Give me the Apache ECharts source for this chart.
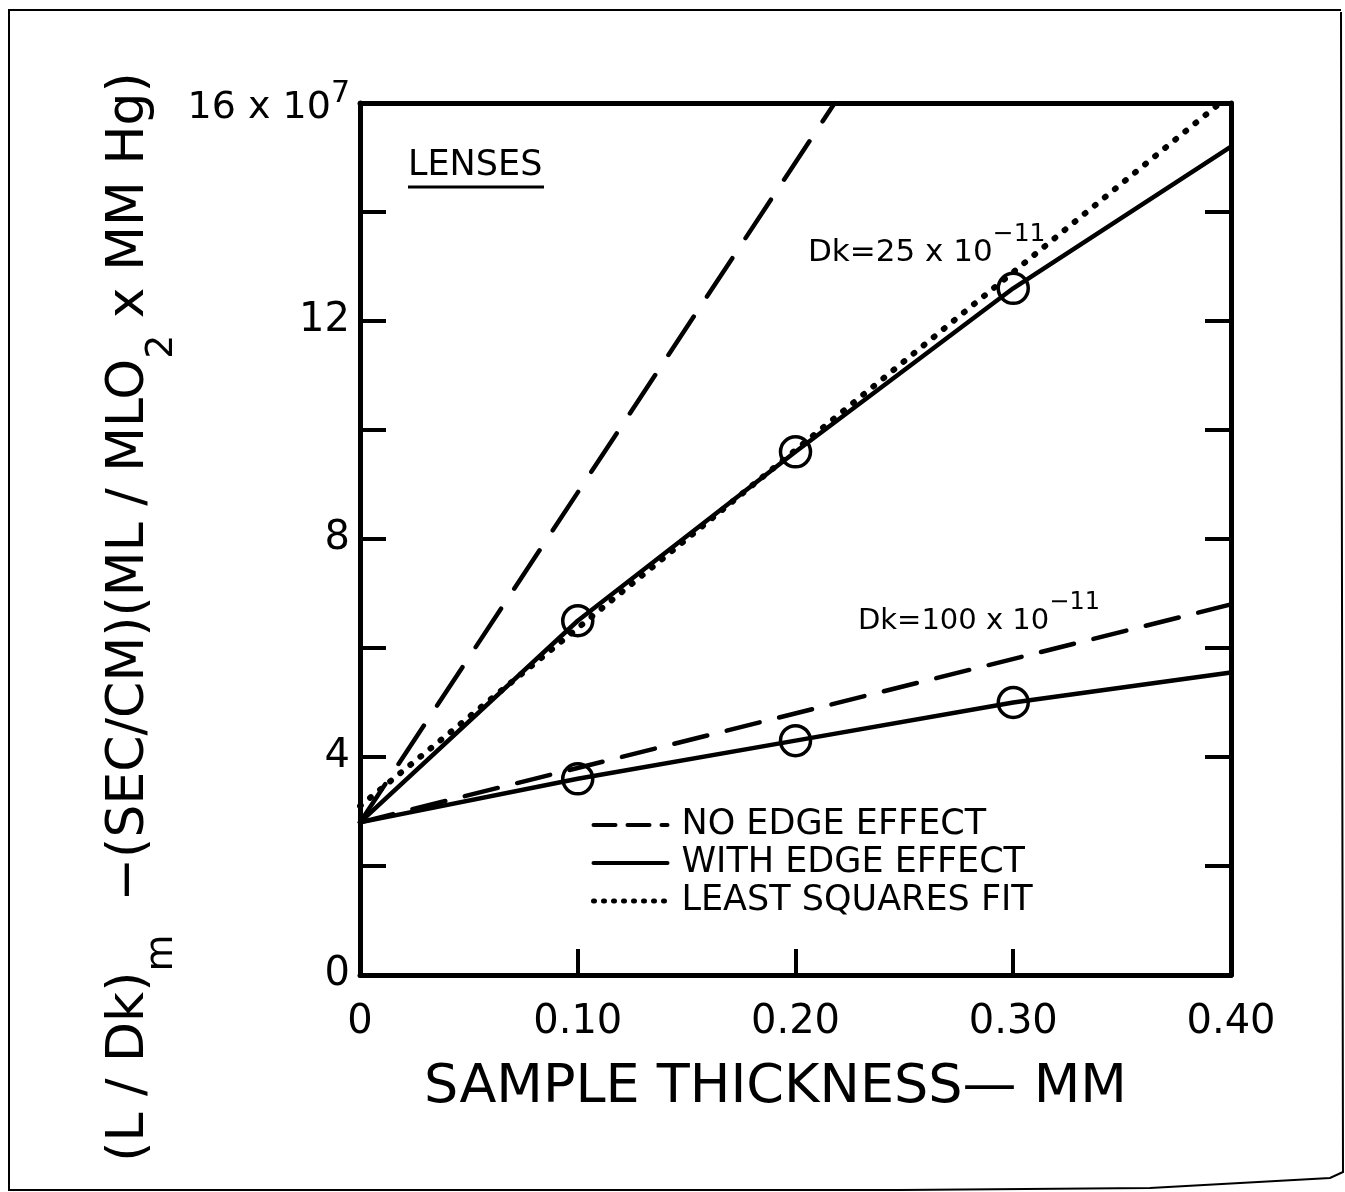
<!DOCTYPE html>
<html>
<head>
<meta charset="utf-8">
<script src="https://cdn.jsdelivr.net/npm/echarts@6/dist/echarts.min.js"></script>
<style>
  html, body { margin: 0; padding: 0; background: #fff; }
  #main { width: 1345px; height: 1192px; }
</style>
</head>
<body>
<div id="main"></div>
<script>
// data (y in units of 10^7)
const xTicks = [0, 0.10, 0.20, 0.30, 0.40];
const yLabels = [0, 4, 8, 12, 16];

// Dk = 25 x 10^-11
const dk25NoEdge = [[0, 2.8], [0.218, 16]];
const dk25Edge = [[0, 2.8], [0.1, 6.5], [0.2, 9.6], [0.3, 12.6], [0.4, 15.2]];
const dk25Fit = [[0, 3.1], [0.395, 16]];
// Dk = 100 x 10^-11
const dk100NoEdge = [[0, 2.8], [0.4, 6.8]];
const dk100Edge = [[0, 2.8], [0.1, 3.6], [0.2, 4.3], [0.3, 5.0], [0.4, 5.55]];
// measured points (circles)
const measured = [[0.1, 6.5], [0.2, 9.6], [0.3, 12.6], [0.1, 3.6], [0.2, 4.3], [0.3, 5.0]];

const FONT = 'DejaVu Sans';
const INK = '#000';

var myChart = echarts.init(document.getElementById('main'));

function lineSeries(name, data, type, width) {
    return {
        name: name,
        type: 'line',
        data: data,
        symbol: 'none',
        clip: true,
        silent: true,
        lineStyle: { color: INK, width: width || 4.5, type: type, cap: 'round' },
        itemStyle: { color: INK }
    };
}

const axisLine = { show: true, onZero: false, lineStyle: { color: INK, width: 5 } };
const noSymbol = { opacity: 0 };

const option = {
    backgroundColor: '#fff',
    animation: false,
    grid: { left: 360, right: 114, top: 103, bottom: 217 },
    legend: {
        orient: 'vertical',
        left: 586,
        top: 802,
        itemWidth: 74,
        itemHeight: 14,
        itemGap: 2,
        selectedMode: false,
        textStyle: { fontFamily: FONT, fontSize: 35, lineHeight: 36, color: INK, padding: [0, 0, 0, 9] },
        data: [
            { name: 'NO EDGE EFFECT', itemStyle: noSymbol, lineStyle: { type: [22, 12], width: 4 } },
            { name: 'WITH EDGE EFFECT', itemStyle: noSymbol, lineStyle: { type: 'solid', width: 4 } },
            { name: 'LEAST SQUARES FIT', itemStyle: noSymbol, lineStyle: { type: [1, 9], width: 5 } }
        ]
    },
    xAxis: [{
        type: 'value',
        min: 0, max: 0.4, interval: 0.1,
        name: 'SAMPLE THICKNESS— MM',
        nameLocation: 'middle',
        nameGap: 86,
        nameTextStyle: { fontFamily: FONT, fontSize: 54, color: INK, padding: [0, 40, 0, 0] },
        axisLine: axisLine,
        axisTick: { inside: true, length: 26, lineStyle: { color: INK, width: 4 } },
        splitLine: { show: false },
        axisLabel: {
            margin: 28,
            fontFamily: FONT, fontSize: 40, color: INK,
            formatter: v => v === 0 ? '0' : v.toFixed(2)
        }
    }, {
        type: 'value', position: 'top',
        min: 0, max: 0.4,
        axisLine: axisLine,
        axisTick: { show: false }, axisLabel: { show: false }, splitLine: { show: false }
    }],
    yAxis: [{
        type: 'value',
        min: 0, max: 16, interval: 2,
        axisLine: axisLine,
        axisTick: { show: true, inside: true, length: 26, lineStyle: { color: INK, width: 4 } },
        splitLine: { show: false },
        axisLabel: {
            margin: 10,
            fontFamily: FONT, fontSize: 40, color: INK,
            formatter: function (v) {
                if (yLabels.indexOf(v) < 0) return '';
                if (v === 16) return '{n|16 x 10}{sup|7}';
                return String(v);
            },
            rich: {
                n: { fontFamily: FONT, fontSize: 38, color: INK, padding: [10, 0, 0, 0] },
                sup: { fontFamily: FONT, fontSize: 30, color: INK, verticalAlign: 'top' }
            }
        }
    }, {
        type: 'value', position: 'right',
        min: 0, max: 16, interval: 2,
        axisLine: axisLine,
        axisTick: { show: true, inside: true, length: 26, lineStyle: { color: INK, width: 4 } },
        axisLabel: { show: false },
        splitLine: { show: false }
    }],
    series: [
        lineSeries('NO EDGE EFFECT', dk25NoEdge, [46, 24]),
        lineSeries('WITH EDGE EFFECT', dk25Edge, 'solid'),
        lineSeries('LEAST SQUARES FIT', dk25Fit, [1, 12], 6),
        lineSeries('NO EDGE EFFECT', dk100NoEdge, [34, 20]),
        lineSeries('WITH EDGE EFFECT', dk100Edge, 'solid'),
        {
            name: 'measured',
            type: 'scatter',
            data: measured,
            symbol: 'circle',
            symbolSize: 30,
            silent: true,
            itemStyle: { color: 'rgba(0,0,0,0)', borderColor: INK, borderWidth: 3.5, opacity: 1 }
        }
    ],
    graphic: [
        {
            type: 'text', x: 142, y: 617, rotation: Math.PI / 2,
            style: {
                text: '{t|(L / Dk)}{s|m}{t|  −(SEC/CM)(ML / MLO}{s|2}{t| x MM Hg)}',
                align: 'center', verticalAlign: 'middle',
                rich: {
                    t: { fontFamily: FONT, fontSize: 52, fill: INK, padding: [0, 0, 26, 0] },
                    s: { fontFamily: FONT, fontSize: 38, fill: INK, verticalAlign: 'bottom' }
                }
            }
        },
        {
            type: 'text', x: 408, y: 183,
            style: { text: 'LENSES', fontFamily: FONT, fontSize: 35, fill: INK, verticalAlign: 'bottom' }
        },
        {
            type: 'line', shape: { x1: 408, y1: 187, x2: 544, y2: 187 },
            style: { stroke: INK, lineWidth: 3 }
        },
        {
            type: 'text', x: 808, y: 245,
            style: {
                text: '{t|Dk=25 x 10}{sup|−11}',
                verticalAlign: 'middle',
                rich: {
                    t: { fontFamily: FONT, fontSize: 31, fill: INK, padding: [16, 0, 0, 0] },
                    sup: { fontFamily: FONT, fontSize: 25, fill: INK, verticalAlign: 'top' }
                }
            }
        },
        {
            type: 'text', x: 858, y: 613,
            style: {
                text: '{t|Dk=100 x 10}{sup|−11}',
                verticalAlign: 'middle',
                rich: {
                    t: { fontFamily: FONT, fontSize: 29, fill: INK, padding: [16, 0, 0, 0] },
                    sup: { fontFamily: FONT, fontSize: 24, fill: INK, verticalAlign: 'top' }
                }
            }
        },
        {
            type: 'polyline',
            shape: { points: [[1341, 12], [1343, 1172], [1330, 1178], [1150, 1188], [900, 1190], [9, 1190], [9, 10], [1341, 10]] },
            style: { stroke: INK, lineWidth: 2, fill: null }
        }
    ]
};

myChart.setOption(option);
</script>
</body>
</html>
